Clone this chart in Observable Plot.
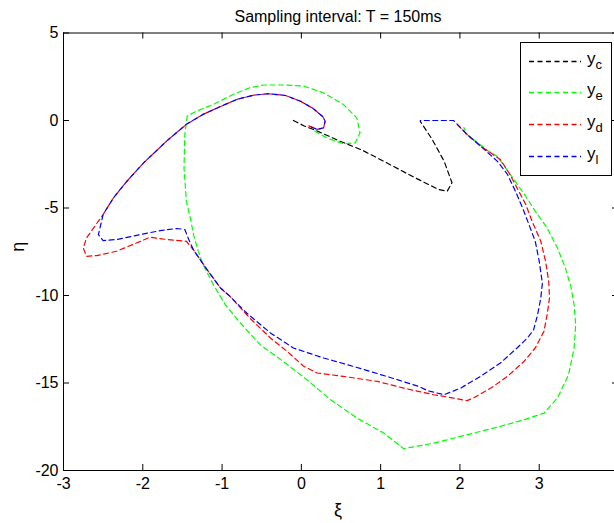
<!DOCTYPE html>
<html>
<head>
<meta charset="utf-8">
<script src="https://cdn.jsdelivr.net/npm/d3@7"></script>
<script src="https://cdn.jsdelivr.net/npm/@observablehq/plot@0.6"></script>
<style>
  html, body { margin: 0; padding: 0; background: #fff; overflow: hidden; }
  #wrap { position: relative; width: 614px; height: 523px; }
  #legend { position: absolute; left: 520px; top: 42px; width: 90px; height: 132px; border: 1px solid #000; background: #fff; font-family: "Liberation Sans", Arial, sans-serif; }
  .entry { position: absolute; left: 0; height: 20px; width: 90px; }
  .entry svg { position: absolute; left: 8px; top: 8px; }
  .entry .lab { position: absolute; left: 66px; top: -3px; font-size: 17px; color: #000; }
  .entry .lab sub { font-size: 13px; vertical-align: -5px; line-height: 0; }
</style>
</head>
<body>
<div id="wrap"></div>
<script>
// Title and axis texts
const titleText = "Sampling interval: T = 150ms";
const xLabel = "ξ";
const yLabel = "η";
const xTicks = [-3, -2, -1, 0, 1, 2, 3, 4];
const yTicks = [5, 0, -5, -10, -15, -20];

// Series names, legend subscripts, colours
const seriesNames = ["y_c", "y_e", "y_d", "y_l"];
const seriesSubs = ["c", "e", "d", "l"];
const seriesColors = ["#000000", "#00ff00", "#ff0000", "#0000ff"];

// y_c
const ycXi  = [-0.10, 0.03, 0.20, 0.47, 0.77, 1.06, 1.42, 1.73, 1.84, 1.90, 1.80, 1.65, 1.50];
const ycEta = [0.00, -0.30, -0.60, -1.15, -1.70, -2.38, -3.24, -3.94, -4.04, -3.56, -2.32, -1.08, -0.05];

// y_e
const yeXi  = [2.05, 2.09, 2.36, 2.47, 2.68, 2.83, 2.95, 3.10, 3.23, 3.33, 3.40, 3.44, 3.46, 3.44, 3.37, 3.23, 3.06, 2.81, 2.51, 2.09, 1.67, 1.29, 1.04, 0.70, 0.37, 0.07, -0.23, -0.52, -0.77, -0.96, -1.11, -1.24, -1.30, -1.36, -1.40, -1.45, -1.48, -1.47, -1.44, -1.32, -1.11, -0.86, -0.65, -0.48, -0.23, 0.03, 0.28, 0.53, 0.70, 0.74, 0.68, 0.53, 0.37, 0.24, 0.15];
const yeEta = [-0.40, -0.80, -1.75, -2.04, -3.37, -4.33, -5.18, -6.14, -7.28, -8.43, -9.50, -10.52, -11.66, -13.00, -14.53, -15.86, -16.72, -17.10, -17.48, -17.96, -18.44, -18.75, -17.86, -17.00, -15.96, -14.81, -13.76, -12.81, -11.57, -10.52, -9.38, -8.23, -7.47, -6.52, -5.57, -4.61, -2.70, -0.80, 0.25, 0.54, 0.92, 1.49, 1.87, 2.03, 2.03, 1.97, 1.58, 0.92, 0.15, -0.70, -1.28, -1.33, -1.08, -0.80, -0.55];

// y_d
const ydXi  = [1.97, 2.09, 2.26, 2.51, 2.62, 2.72, 2.83, 2.91, 3.02, 3.08, 3.12, 3.13, 3.10, 3.06, 2.95, 2.81, 2.60, 2.39, 2.17, 2.09, 1.92, 1.67, 1.29, 0.96, 0.53, 0.20, 0.03, -0.18, -0.39, -0.65, -0.90, -1.02, -1.19, -1.36, -1.45, -1.70, -1.91, -2.08, -2.33, -2.58, -2.71, -2.75, -2.71, -2.62, -2.50, -2.37, -2.20, -1.99, -1.70, -1.45, -1.24, -1.02, -0.81, -0.60, -0.41, -0.20, -0.01, 0.15, 0.27, 0.30, 0.28, 0.20, 0.09];
const ydEta = [-0.25, -0.80, -1.46, -2.23, -3.00, -3.85, -4.80, -5.76, -6.90, -8.04, -9.19, -10.14, -11.09, -12.05, -13.00, -13.76, -14.62, -15.29, -15.86, -16.01, -15.86, -15.67, -15.29, -14.91, -14.62, -14.43, -14.05, -13.19, -12.43, -11.29, -10.05, -9.57, -8.52, -7.40, -6.90, -6.80, -6.67, -7.00, -7.47, -7.72, -7.76, -7.28, -6.71, -6.14, -5.37, -4.42, -3.47, -2.42, -1.18, -0.22, 0.35, 0.80, 1.21, 1.45, 1.53, 1.43, 1.10, 0.68, 0.22, -0.03, -0.42, -0.51, -0.30];

// y_l
const ylXi  = [1.50, 1.92, 1.99, 2.09, 2.26, 2.47, 2.60, 2.70, 2.79, 2.87, 2.95, 3.00, 3.04, 3.02, 2.98, 2.93, 2.85, 2.72, 2.51, 2.26, 2.01, 1.80, 1.60, 1.48, 1.21, 0.87, 0.58, 0.28, -0.10, -0.39, -0.69, -0.90, -1.02, -1.19, -1.36, -1.42, -1.47, -1.57, -1.78, -2.03, -2.33, -2.50, -2.56, -2.50, -2.37, -2.20, -1.99, -1.70, -1.45, -1.24, -1.02, -0.81, -0.60, -0.41, -0.20, -0.01, 0.15, 0.27, 0.30, 0.28, 0.20, 0.10];
const ylEta = [0.00, 0.00, -0.32, -0.80, -1.46, -2.32, -3.08, -4.04, -4.99, -5.94, -6.90, -8.04, -9.30, -10.14, -11.09, -11.95, -12.43, -13.00, -13.86, -14.62, -15.29, -15.67, -15.45, -15.20, -14.81, -14.34, -13.95, -13.57, -13.00, -12.14, -11.00, -10.05, -9.57, -8.52, -7.40, -6.80, -6.23, -6.17, -6.29, -6.52, -6.80, -6.86, -6.52, -5.37, -4.42, -3.47, -2.42, -1.18, -0.22, 0.35, 0.80, 1.21, 1.45, 1.53, 1.43, 1.10, 0.68, 0.22, -0.03, -0.42, -0.51, -0.32];

const seriesXi = [ycXi, yeXi, ydXi, ylXi];
const seriesEta = [ycEta, yeEta, ydEta, ylEta];

const seriesRows = seriesNames.map((name, i) =>
  seriesXi[i].map((x, j) => ({series: name, xi: x, eta: seriesEta[i][j]})));

const FONT = '"Liberation Sans", Arial, Helvetica, sans-serif';
const W = 614, H = 523;
const mL = 63, mT = 32.5, mR = -4, mB = 53;
const frameW = W - mL - mR, frameH = H - mT - mB;
const TICK = 6;
const dash = "5,3.5";
const dashOffsets = [0, 2, 0, 4.5];

const chart = Plot.plot({
  width: W, height: H,
  marginLeft: mL, marginTop: mT, marginRight: mR, marginBottom: mB,
  style: {fontFamily: FONT, fontSize: "16px", color: "#000", background: "#fff", overflow: "visible"},
  x: {domain: [-3, 4], axis: null},
  y: {domain: [-20, 5], axis: null},
  color: {domain: seriesNames, range: seriesColors},
  marks: [
    ...seriesRows.map((rows, i) =>
      Plot.line(rows, {x: "xi", y: "eta", stroke: "series", strokeWidth: 1.2,
        strokeDasharray: dash, strokeDashoffset: dashOffsets[i], curve: "linear"})),
    Plot.frame({stroke: "#000", strokeWidth: 1}),
    // inward ticks: bottom, top, left, right
    Plot.tickX(xTicks, {x: d => d, insetTop: frameH - TICK, stroke: "#000"}),
    Plot.tickX(xTicks, {x: d => d, insetBottom: frameH - TICK, stroke: "#000"}),
    Plot.tickY(yTicks, {y: d => d, insetRight: frameW - TICK, stroke: "#000"}),
    Plot.tickY(yTicks, {y: d => d, insetLeft: frameW - TICK, stroke: "#000"}),
    // tick labels
    Plot.text(xTicks, {x: d => d, text: d => String(d), frameAnchor: "bottom", lineAnchor: "top", dy: 7, fill: "#000"}),
    Plot.text(yTicks, {y: d => d, text: d => String(d), frameAnchor: "left", textAnchor: "end", dx: -5, fill: "#000"}),
    // title and axis labels
    Plot.text([titleText], {frameAnchor: "top", lineAnchor: "bottom", dy: -11, dx: -3, fill: "#000", fontSize: 16}),
    Plot.text([xLabel], {frameAnchor: "bottom", lineAnchor: "top", dy: 33, dx: -3, fill: "#000", fontSize: 18}),
    Plot.text([yLabel], {frameAnchor: "left", dx: -45, rotate: -90, fill: "#000", fontSize: 18})
  ]
});
document.getElementById("wrap").appendChild(chart);

// Legend built from the series arrays
const legend = document.createElement("div");
legend.id = "legend";
const entryTops = [9, 40, 72, 104];
seriesNames.forEach((name, i) => {
  const e = document.createElement("div");
  e.className = "entry";
  e.style.top = entryTops[i] + "px";
  e.innerHTML = `<svg width="52" height="3"><line x1="0" y1="1.5" x2="52" y2="1.5" stroke="${seriesColors[i]}" stroke-width="1.3" stroke-dasharray="${dash}"/></svg>` +
    `<span class="lab">y<sub>${seriesSubs[i]}</sub></span>`;
  legend.appendChild(e);
});
document.getElementById("wrap").appendChild(legend);
</script>
</body>
</html>
